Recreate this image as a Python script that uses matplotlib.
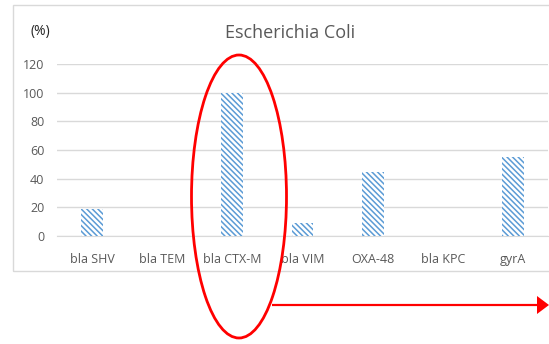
import matplotlib
matplotlib.use('Agg')
import matplotlib.pyplot as plt
from matplotlib.patches import Ellipse, Rectangle, FancyArrow

genes = ['bla SHV', 'bla TEM', 'bla CTX-M', 'bla VIM', 'OXA-48', 'bla KPC', 'gyrA']
percent = [19, 0, 100, 9, 45, 0, 55]
yticks = [0, 20, 40, 60, 80, 100, 120]

W, H = 549, 344
plt.rcParams['font.family'] = ['Open Sans', 'DejaVu Sans']
plt.rcParams['hatch.linewidth'] = 1.1

fig = plt.figure(figsize=(W / 100, H / 100), dpi=100)

def px(x0, y0, x1, y1):
    # pixel box -> figure fraction [left, bottom, width, height]
    return [x0 / W, 1 - y1 / H, (x1 - x0) / W, (y1 - y0) / H]

# chart frame
fig.patches.append(Rectangle((13 / W, 1 - 271 / H), (W + 5 - 13) / W, (271 - 5) / H,
                             transform=fig.transFigure, fill=False,
                             edgecolor='#D9D9D9', lw=1.0))

ax = fig.add_axes(px(57, 64, 548, 236))
x = range(len(genes))
ax.bar(x, percent, width=0.31, color='white', edgecolor='#5B9BD5',
       hatch='\\\\\\\\\\\\', linewidth=0, zorder=3)
ax.set_xlim(-0.5, len(genes) - 0.5)
ax.set_ylim(0, 120)
ax.set_yticks(yticks)
ax.set_xticks(list(x))
ax.set_xticklabels(genes)
ax.yaxis.grid(True, color='#D9D9D9', lw=1.0, zorder=0)
for s in ax.spines.values():
    s.set_visible(False)
ax.spines['bottom'].set_visible(True)
ax.spines['bottom'].set_color('#D9D9D9')
ax.tick_params(length=0, labelsize=9, colors='#595959', pad=9)
ax.tick_params(axis='x', pad=12)

fig.text(290 / W, 1 - 33 / H, 'Escherichia Coli', ha='center', va='center',
         fontsize=13, color='#595959')
fig.text(40 / W, 1 - 32 / H, '(%)', ha='center', va='center',
         fontsize=10, color='#262626')

# red highlight around CTX-M and arrow to the right
fig.patches.append(Ellipse((239 / W, 1 - 196.5 / H), 95 / W, 283 / H,
                           transform=fig.transFigure, fill=False,
                           edgecolor='#FF0000', lw=2.0))
fig.patches.append(FancyArrow(272 / W, 1 - 305 / H, (549 - 272) / W, 0,
                              width=2.2 / H, head_width=18 / H, head_length=12 / W,
                              length_includes_head=True, transform=fig.transFigure,
                              color='#FF0000', lw=0))

fig.savefig('out.png', dpi=100)
